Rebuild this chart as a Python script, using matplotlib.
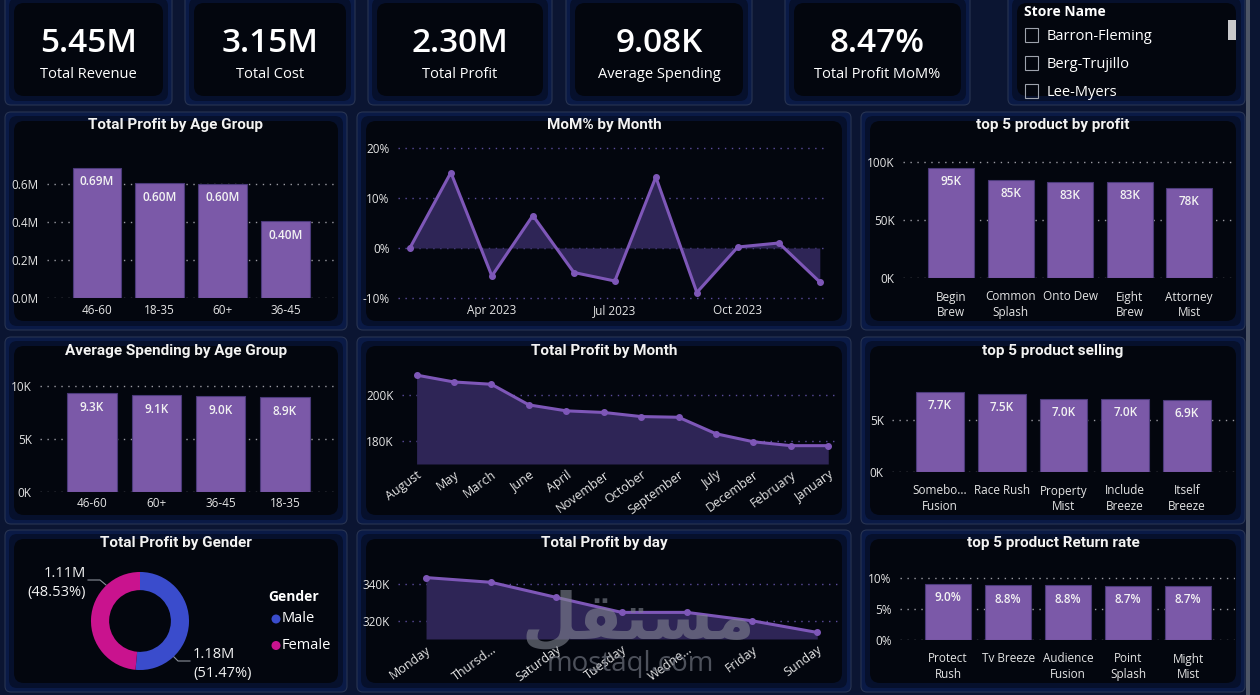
import matplotlib
matplotlib.use('Agg')
import matplotlib.pyplot as plt
from matplotlib.patches import FancyBboxPatch, Rectangle, Circle
import numpy as np

plt.rcParams['font.family'] = ['Open Sans', 'DejaVu Sans']

W, H = 1260, 695

# ---- data ----
kpi_values = ['5.45M', '3.15M', '2.30M', '9.08K', '8.47%']
kpi_labels = ['Total Revenue', 'Total Cost', 'Total Profit', 'Average Spending', 'Total Profit MoM%']

store_names = ['Barron-Fleming', 'Berg-Trujillo', 'Lee-Myers']

age_groups = ['46-60', '18-35', '60+', '36-45']
age_profit = [0.686, 0.604, 0.602, 0.403]          # millions

mom_months = ['Feb 2023', 'Mar 2023', 'Apr 2023', 'May 2023', 'Jun 2023', 'Jul 2023',
              'Aug 2023', 'Sep 2023', 'Oct 2023', 'Nov 2023', 'Dec 2023']
mom_pct = [0.0, 15.1, -5.6, 6.5, -4.9, -6.6, 14.2, -8.9, 0.2, 1.0, -6.8]
mom_shown = ['Apr 2023', 'Jul 2023', 'Oct 2023']

top_profit_names = ['Begin\nBrew', 'Common\nSplash', 'Onto Dew', 'Eight\nBrew', 'Attorney\nMist']
top_profit_vals = [94.8, 84.6, 83.2, 82.9, 78.0]    # K

spend_groups = ['46-60', '60+', '36-45', '18-35']
spend_vals = [9.3, 9.1, 9.0, 8.9]                   # K

month_names = ['August', 'May', 'March', 'June', 'April', 'November', 'October',
               'September', 'July', 'December', 'February', 'January']
month_profit = [208.8, 205.8, 204.8, 195.8, 193.2, 192.5, 190.7, 190.4, 183.2, 179.7, 178.0, 178.0]

sell_names = ['Somebo...\nFusion', 'Race Rush', 'Property\nMist', 'Include\nBreeze', 'Itself\nBreeze']
sell_vals = [7.68, 7.48, 7.05, 7.02, 6.94]          # K

gender_names = ['Male', 'Female']
gender_profit = [1.1811, 1.1137]                    # millions

day_names = ['Monday', 'Thursd...', 'Saturday', 'Tuesday', 'Wedne...', 'Friday', 'Sunday']
day_profit = [343.7, 341.1, 332.8, 324.6, 324.6, 320.0, 313.6]

return_names = ['Protect\nRush', 'Tv Breeze', 'Audience\nFusion', 'Point\nSplash', 'Might\nMist']
return_vals = [9.02, 8.82, 8.80, 8.74, 8.72]       # %

# ---- style ----
BG = '#0b1532'
BAR = '#7b59a8'
BAR_EDGE = '#4b3a7a'
LINE = '#7e57b8'
FILL = '#2e2556'
TXT = '#f2f2f2'
TICK = '#e4e4e4'
GRID_BAR = '#9a9aa2'
GRID_LINE = '#5b4c9c'
MALE = '#3a4ccc'
FEMALE = '#c9138e'

fig = plt.figure(figsize=(W / 100, H / 100), dpi=100, facecolor=BG)
bg = fig.add_axes([0, 0, 1, 1])
bg.set_xlim(0, W)
bg.set_ylim(H, 0)
bg.axis('off')
bg.set_zorder(-1)


def panel(x0, y0, x1, y1):
    bg.add_patch(FancyBboxPatch((x0, y0), x1 - x0, y1 - y0,
                                boxstyle='round,pad=0,rounding_size=6',
                                fc='#0a1a46', ec='#283452', lw=0.8))
    bg.add_patch(FancyBboxPatch((x0 + 4, y0 + 4), x1 - x0 - 8, y1 - y0 - 8,
                                boxstyle='round,pad=0,rounding_size=8',
                                fc='#06102c', ec='none'))
    bg.add_patch(FancyBboxPatch((x0 + 9, y0 + 9), x1 - x0 - 18, y1 - y0 - 18,
                                boxstyle='round,pad=0,rounding_size=10',
                                fc='#03060e', ec='none'))


def title(x, y, s):
    bg.text(x, y, s, ha='center', va='center', color=TXT, fontsize=11,
            fontweight='bold', family=['Roboto', 'DejaVu Sans'])


def add_ax(x0, y0, x1, y1):
    return fig.add_axes([x0 / W, 1 - y1 / H, (x1 - x0) / W, (y1 - y0) / H], facecolor='none')


def style_ax(ax, grid_color, xpad, xsize=8.5):
    for s in ax.spines.values():
        s.set_visible(False)
    ax.tick_params(axis='y', length=0, colors=TICK, labelsize=8.5, pad=6)
    ax.tick_params(axis='x', length=0, colors=TICK, labelsize=xsize, pad=xpad)
    ax.grid(axis='y', color=grid_color, linestyle=(0, (1, 4)), linewidth=1.0)
    ax.set_axisbelow(True)


def bar_panel(rect, cats, vals, fmt, ylim, yticks, ytlabels, xlim, xpad):
    ax = add_ax(*rect)
    x = np.arange(len(cats))
    ax.bar(x, vals, width=0.77, color=BAR, edgecolor=BAR_EDGE, linewidth=0.8, zorder=3)
    for xi, v in zip(x, vals):
        ax.annotate(fmt(v), (xi, v), xytext=(0, -10), textcoords='offset points',
                    ha='center', va='center', color=TXT, fontsize=8.5, fontweight='semibold', zorder=4)
    ax.set_xlim(*xlim)
    ax.set_ylim(*ylim)
    ax.set_yticks(yticks, ytlabels)
    ax.set_xticks(x, cats, linespacing=1.25)
    style_ax(ax, GRID_BAR, xpad)
    return ax


# ---- panels ----
kpi_boxes = [(5, 172), (185, 355), (368, 552), (566, 752), (785, 970)]
for (x0, x1) in kpi_boxes:
    panel(x0, -6, x1, 105)
panel(1008, -6, 1245, 105)
for (y0, y1) in [(112, 330), (337, 524), (530, 692)]:
    panel(5, y0, 347, y1)
    panel(357, y0, 851, y1)
    panel(861, y0, 1245, y1)

# right scrollbar
bg.add_patch(Rectangle((1246, 0), 4, H, fc='#4d5566', ec='none'))

# ---- KPI cards ----
for (x0, x1), v, lab in zip(kpi_boxes, kpi_values, kpi_labels):
    cx = (x0 + x1) / 2
    bg.text(cx, 44, v, ha='center', va='center', color='white', fontsize=24, fontweight='semibold')
    bg.text(cx, 75, lab, ha='center', va='center', color='white', fontsize=10.5)

# ---- slicer ----
bg.text(1024, 12, 'Store Name', ha='left', va='center', color='white', fontsize=10, fontweight='bold')
for i, name in enumerate(store_names):
    yy = 36 + 28 * i
    bg.add_patch(Rectangle((1025, yy - 8), 13, 14, fc='none', ec='#9ea3ad', lw=0.8))
    bg.text(1047, yy, name, ha='left', va='center', color='white', fontsize=10.5)
bg.add_patch(Rectangle((1228, 20), 8, 20, fc='#c8c8cc', ec='none'))

# ---- Total Profit by Age Group ----
title(176, 125, 'Total Profit by Age Group')
bar_panel((47, 150, 338, 298), age_groups, age_profit, lambda v: f'{v:.2f}M',
          (0, 0.779), [0, 0.2, 0.4, 0.6], ['0.0M', '0.2M', '0.4M', '0.6M'],
          (-0.79, 3.83), 4)

# ---- MoM% by Month ----
title(604, 125, 'MoM% by Month')
ax = add_ax(398, 140, 828, 300)
xm = np.arange(len(mom_months))
ax.fill_between(xm, mom_pct, 0, color=FILL, lw=0, zorder=2)
ax.plot(xm, mom_pct, color=LINE, lw=2.2, marker='o', ms=4, zorder=3)
ax.set_xlim(-0.29, 10.2)
ax.set_ylim(-10.4, 21.6)
ax.set_yticks([-10, 0, 10, 20], ['-10%', '0%', '10%', '20%'])
ax.set_xticks([mom_months.index(m) for m in mom_shown], mom_shown)
style_ax(ax, GRID_LINE, 3)

# ---- top 5 product by profit ----
title(1053, 125, 'top 5 product by profit')
bar_panel((903, 145, 1235, 278), top_profit_names, top_profit_vals, lambda v: f'{v:.0f}K',
          (0, 114.7), [0, 50, 100], ['0K', '50K', '100K'], (-0.81, 4.77), 9)

# ---- Average Spending by Age Group ----
title(176, 351, 'Average Spending by Age Group')
bar_panel((40, 372, 335, 492), spend_groups, spend_vals, lambda v: f'{v:.1f}K',
          (0, 11.3), [0, 5, 10], ['0K', '5K', '10K'], (-0.81, 3.78), 3.5)

# ---- Total Profit by Month ----
title(604, 351, 'Total Profit by Month')
ax = add_ax(402, 368, 835, 464)
xt = np.arange(len(month_names))
ax.fill_between(xt, month_profit, 170, color=FILL, lw=0, zorder=2)
ax.plot(xt, month_profit, color=LINE, lw=2.2, marker='o', ms=4, zorder=3)
ax.set_xlim(-0.39, 11.18)
ax.set_ylim(170, 211.9)
ax.set_yticks([180, 200], ['180K', '200K'])
ax.set_xticks(xt, month_names, rotation=36, ha='right', rotation_mode='anchor')
style_ax(ax, GRID_LINE, 3, xsize=9)

# ---- top 5 product selling ----
title(1053, 351, 'top 5 product selling')
bar_panel((892, 372, 1235, 472), sell_names, sell_vals, lambda v: f'{v:.1f}K',
          (0, 9.6), [0, 5], ['0K', '5K'], (-0.78, 4.78), 9)

# ---- Total Profit by Gender ----
title(176, 543, 'Total Profit by Gender')
ax = add_ax(85, 566, 195, 676)
ax.pie(gender_profit, colors=[MALE, FEMALE], startangle=90, counterclock=False,
       radius=1, wedgeprops=dict(width=0.37, edgecolor='none'))
ax.set_xlim(-1.122, 1.122)
ax.set_ylim(-1.122, 1.122)
ax.set_aspect('equal')
ax.axis('off')
total = sum(gender_profit)
gl = [f'{v:.2f}M\n({v / total:.2%})' for v in gender_profit]
bg.text(193, 664, gl[0], ha='left', va='center', color=TXT, fontsize=10.5, linespacing=1.35)
bg.text(86, 583, gl[1], ha='right', va='center', color=TXT, fontsize=10.5, linespacing=1.35)
bg.plot([173, 178, 190], [656, 661, 661], color='#8a8f99', lw=0.8)
bg.plot([88, 100, 106], [580, 580, 585], color='#8a8f99', lw=0.8)
bg.text(268, 597, 'Gender', ha='left', va='center', color='white', fontsize=10, fontweight='bold')
for i, (name, col) in enumerate(zip(gender_names, [MALE, FEMALE])):
    yy = 619 + 26.5 * i
    bg.add_patch(Circle((276, yy), 4.5, fc=col, ec='none'))
    bg.text(282, yy, name, ha='left', va='center', color='white', fontsize=10.5)

# ---- Total Profit by day ----
title(604, 543, 'Total Profit by day')
ax = add_ax(398, 565, 842, 639)
xd = np.arange(len(day_names))
ax.fill_between(xd, day_profit, 310, color=FILL, lw=0, zorder=2)
ax.plot(xd, day_profit, color=LINE, lw=2.2, marker='o', ms=4, zorder=3)
ax.set_xlim(-0.43, 6.38)
ax.set_ylim(310, 350.6)
ax.set_yticks([320, 340], ['320K', '340K'])
ax.set_xticks(xd, day_names, rotation=36, ha='right', rotation_mode='anchor')
style_ax(ax, GRID_LINE, 3, xsize=9)

# ---- top 5 product Return rate ----
title(1053, 543, 'top 5 product Return rate')
bar_panel((900, 565, 1235, 640), return_names, return_vals, lambda v: f'{v:.1f}%',
          (0, 12.1), [0, 5, 10], ['0%', '5%', '10%'], (-0.8, 4.78), 9)

# ---- watermark ----
fig.text(638 / W, 1 - 620 / H, '\uFEDE\uFED8\uFE98\uFEB4\uFEE3', ha='center', va='center',
         color='#80848f', alpha=0.6, fontsize=46, fontweight='bold', family=['DejaVu Sans'], zorder=10)
fig.text(630 / W, 1 - 664 / H, 'mostaql.com', ha='center', va='center',
         color='#80848f', alpha=0.6, fontsize=20, zorder=10)

fig.savefig('out.png', dpi=100, facecolor=BG)
